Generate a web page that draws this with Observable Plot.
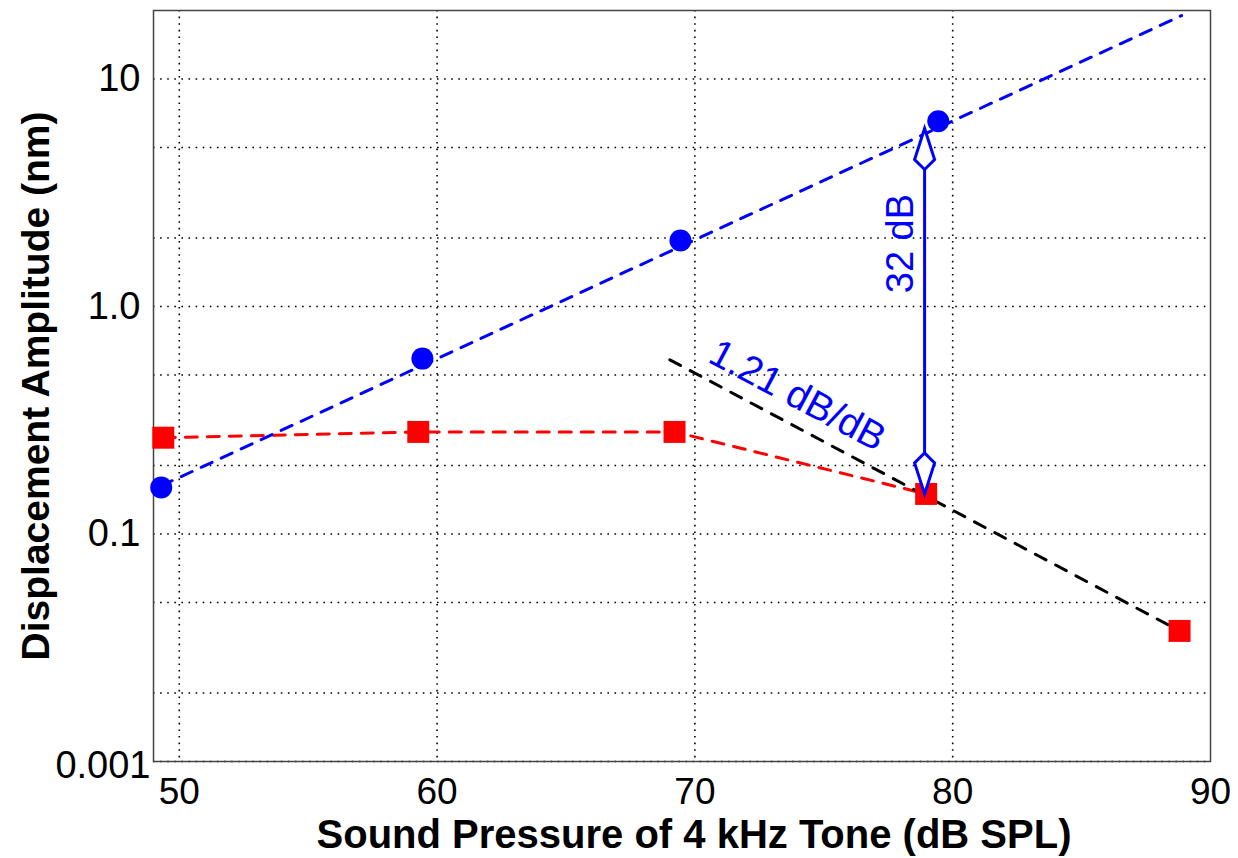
<!DOCTYPE html>
<html><head><meta charset="utf-8">
<script src="https://cdn.jsdelivr.net/npm/d3@7"></script>
<script src="https://cdn.jsdelivr.net/npm/@observablehq/plot@0.6"></script>
<style>html,body{margin:0;padding:0;background:#fff;} svg{display:block}</style>
</head><body><div id="chart"></div>
<script>
// Measured data (Sound pressure in dB SPL, displacement in nm)
const circleX = [49.3, 59.43, 69.44, 79.44];
const circleY = [0.160, 0.590, 1.95, 6.52];
const squareX = [49.38, 59.27, 69.21, 78.97, 88.8];
const squareY = [0.265, 0.281, 0.281, 0.150, 0.0375];
const blueFitX = [49.3, 88.88];
const blueFitY = [0.163, 19.0];
const blackFitX = [69.03, 88.8];
const blackFitY = [0.583, 0.0375];
const xTicks = [50, 60, 70, 80, 90];
const xGrid = [50, 60, 70, 80];
const yGrid = [0.01, 0.02, 0.05, 0.1, 0.2, 0.5, 1, 2, 5, 10];
const yTicks = [10, 1, 0.1];
const yTickLabels = ["10", "1.0", "0.1"];
const yBottomTick = [0.01];
const yBottomLabel = "0.001";
const arrowX = 78.91, arrowTop = 6.06, arrowBottom = 0.150;
const slopeLabel = "1.21 dB/dB", slopeAt = [73.98, 0.406];
const diffLabel = "32 dB", diffAt = [78.0, 1.89];
const xTitle = "Sound Pressure of 4 kHz Tone (dB SPL)";
const yTitle = "Displacement Amplitude (nm)";

const circles = circleX.map((x, i) => ({x, y: circleY[i]}));
const squares = squareX.map((x, i) => ({x, y: squareY[i]}));
const redPath = squares.slice(0, 4);
const blueFit = blueFitX.map((x, i) => ({x, y: blueFitY[i]}));
const blackFit = blackFitX.map((x, i) => ({x, y: blackFitY[i]}));

const kiteUp = {draw(ctx) { ctx.moveTo(0, 0); ctx.lineTo(10, 31); ctx.lineTo(0, 41); ctx.lineTo(-10, 31); ctx.closePath(); }};
const kiteDown = {draw(ctx) { ctx.moveTo(0, 0); ctx.lineTo(10, -31); ctx.lineTo(0, -41); ctx.lineTo(-10, -31); ctx.closePath(); }};

const font = "Liberation Sans, Arial, Helvetica, sans-serif";
const dash = "12,10";

const chart = Plot.plot({
  width: 1238,
  height: 858,
  marginLeft: 153,
  marginRight: 28,
  marginTop: 10,
  marginBottom: 97,
  style: {fontFamily: font, background: "white", color: "black"},
  x: {domain: [49, 90]},
  y: {type: "log", domain: [0.01, 20]},
  marks: [
    Plot.gridX(xGrid, {stroke: "black", strokeOpacity: 1, strokeWidth: 1.6, strokeDasharray: "1.6,5"}),
    Plot.gridY(yGrid, {stroke: "black", strokeOpacity: 1, strokeWidth: 1.6, strokeDasharray: "1.6,5.5"}),
    Plot.frame({stroke: "#444", strokeWidth: 1.5}),
    Plot.line(redPath, {x: "x", y: "y", stroke: "#ff0000", strokeWidth: 3, strokeDasharray: dash}),
    Plot.line(blueFit, {x: "x", y: "y", stroke: "#0000ff", strokeWidth: 3, strokeDasharray: dash}),
    Plot.line(blackFit, {x: "x", y: "y", stroke: "black", strokeWidth: 3, strokeDasharray: "12,11"}),
    Plot.dot(squares, {x: "x", y: "y", symbol: "square", r: 12.4, fill: "#ff0000", stroke: "none"}),
    Plot.dot(circles, {x: "x", y: "y", symbol: "circle", r: 11, fill: "#0000ff", stroke: "none"}),
    Plot.ruleX([arrowX], {y1: arrowBottom, y2: arrowTop, stroke: "#0000ff", strokeWidth: 3}),
    Plot.dot([arrowX], {x: d => d, y: () => arrowTop, symbol: kiteUp, fill: "white", stroke: "#0000ff", strokeWidth: 3, strokeLinejoin: "miter"}),
    Plot.dot([arrowX], {x: d => d, y: () => arrowBottom, symbol: kiteDown, fill: "white", stroke: "#0000ff", strokeWidth: 3, strokeLinejoin: "miter"}),
    Plot.text([slopeLabel], {x: () => slopeAt[0], y: () => slopeAt[1], text: d => d, rotate: 28, fill: "#0000ff", fontSize: 39, textAnchor: "middle", lineAnchor: "middle"}),
    Plot.text([diffLabel], {x: () => diffAt[0], y: () => diffAt[1], text: d => d, rotate: -90, fill: "#0000ff", fontSize: 38, textAnchor: "middle", lineAnchor: "middle"}),
    Plot.axisX(xTicks, {tickSize: 0, tickPadding: 16, fontSize: 37, label: null}),
    Plot.axisY(yTicks, {tickSize: 0, tickPadding: 13, fontSize: 38, label: null, tickFormat: d => yTickLabels[yTicks.indexOf(d)]}),
    Plot.axisY(yBottomTick, {tickSize: 0, tickPadding: 3, dy: 4, fontSize: 38, label: null, tickFormat: () => yBottomLabel}),
    Plot.text([xTitle], {frameAnchor: "bottom", dx: 12, dy: 74, text: d => d, fontWeight: "bold", fontSize: 40, textAnchor: "middle", lineAnchor: "middle"}),
    Plot.text([yTitle], {frameAnchor: "left", dx: -117, rotate: -90, text: d => d, fontWeight: "bold", fontSize: 39, textAnchor: "middle", lineAnchor: "middle"})
  ]
});
document.getElementById("chart").appendChild(chart);
</script>
</body></html>
